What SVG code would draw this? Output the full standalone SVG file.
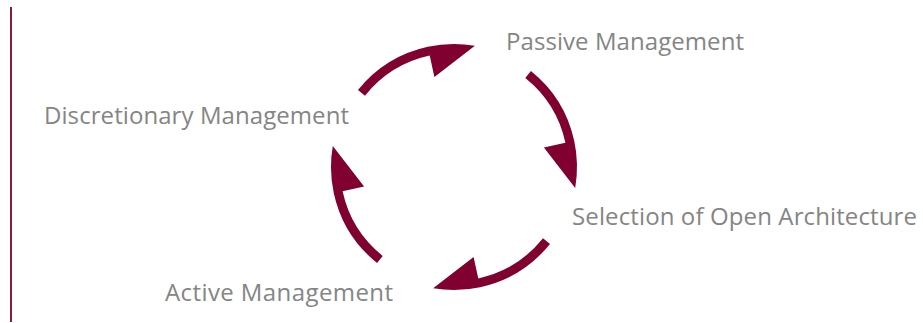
<svg xmlns="http://www.w3.org/2000/svg" width="923" height="323" viewBox="0 0 923 323">
  <defs>
    <style>
      .lbl { font-family: "Open Sans", "Liberation Sans", sans-serif; font-size: 24px; fill: #858585; }
      .arr { fill: #80002f; }
    </style>
    <path id="arc" d="M -96.0,-76.9 A 123 123 0 0 1 -26.2,-120.2 A 123 123 0 0 1 20.9,-121.2 L -19.6,-89.9 L -24.3,-111.4 A 114 114 0 0 0 -89.0,-71.3 Z"/>
  </defs>
  <rect width="923" height="323" fill="#ffffff"/>
  <line x1="11" y1="7" x2="11" y2="322" stroke="#8e1a3d" stroke-width="2"/>
  <g id="connectors" transform="translate(454,167)">
    <use href="#arc" class="arr"/>
    <use href="#arc" class="arr" transform="rotate(90)"/>
    <use href="#arc" class="arr" transform="rotate(180)"/>
    <use href="#arc" class="arr" transform="rotate(270)"/>
  </g>
  <g id="passive"><text class="lbl" x="506" y="50" textLength="238" lengthAdjust="spacing">Passive Management</text></g>
  <g id="discretionary"><text class="lbl" x="44" y="124" textLength="305" lengthAdjust="spacing">Discretionary Management</text></g>
  <g id="selection"><text class="lbl" x="572" y="225" textLength="345" lengthAdjust="spacing">Selection of Open Architecture</text></g>
  <g id="active"><text class="lbl" x="165" y="301" textLength="228" lengthAdjust="spacing">Active Management</text></g>
</svg>
